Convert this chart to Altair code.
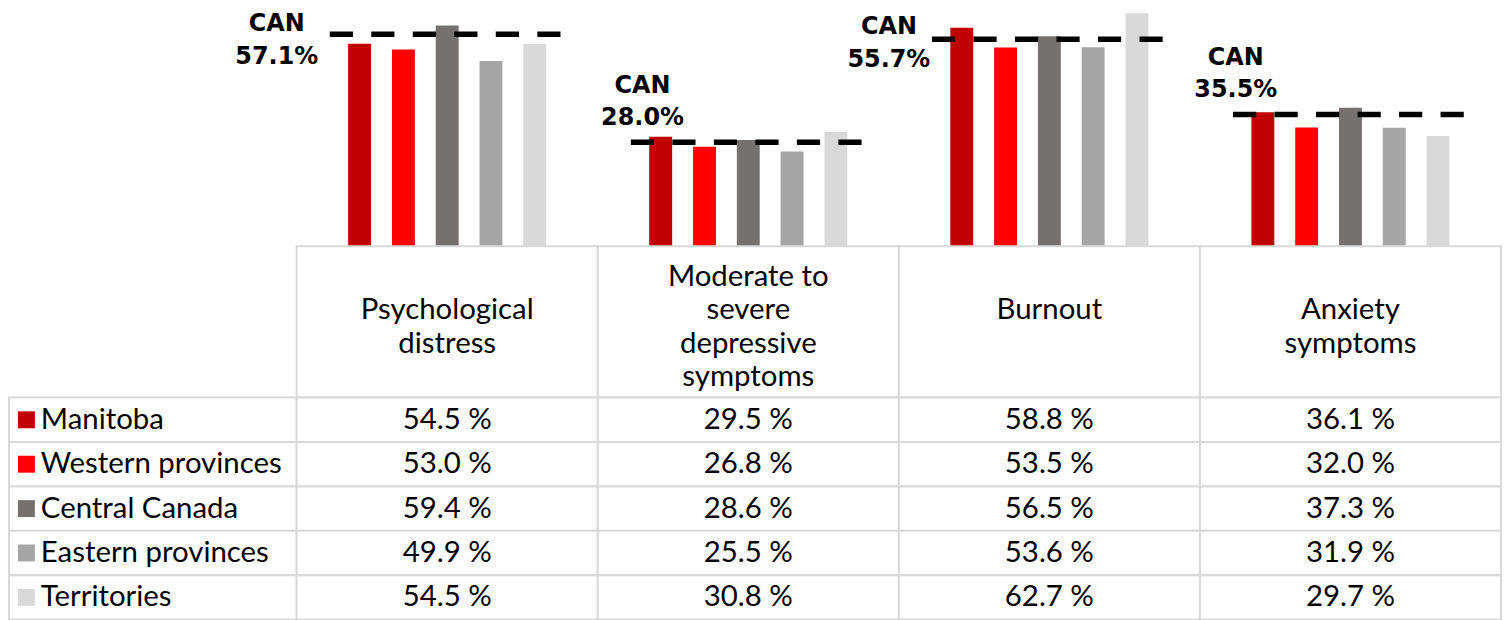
import altair as alt
import pandas as pd

# ---------------- data ----------------
categories = ["Psychological distress", "Moderate to severe depressive symptoms",
              "Burnout", "Anxiety symptoms"]
header_labels = ["Psychological\ndistress", "Moderate to\nsevere\ndepressive\nsymptoms",
                 "Burnout\n", "Anxiety\nsymptoms"]
regions = ["Manitoba", "Western provinces", "Central Canada", "Eastern provinces", "Territories"]
region_colors = ["#C00000", "#FF0000", "#767171", "#A5A5A5", "#D9D9D9"]

manitoba = [54.5, 29.5, 58.8, 36.1]
western = [53.0, 26.8, 53.5, 32.0]
central = [59.4, 28.6, 56.5, 37.3]
eastern = [49.9, 25.5, 53.6, 31.9]
territories = [54.5, 30.8, 62.7, 29.7]
canada = [57.1, 28.0, 55.7, 35.5]

series = [manitoba, western, central, eastern, territories]
rows = []
for reg, vals in zip(regions, series):
    for cat, v in zip(categories, vals):
        rows.append({"category": cat, "region": reg, "value": v, "label": f"{v:.1f} %"})
long_df = pd.DataFrame(rows)
can_df = pd.DataFrame({"category": categories, "can": canada,
                       "label": [f"CAN\n{v:.1f}%" for v in canada]})
head_df = pd.DataFrame({"category": categories, "header": header_labels})
reg_df = pd.DataFrame({"region": regions})

# ---------------- layout / style ----------------
LEFT_W = 289
DATA_W = 1210
BAR_H = 238
HEAD_H = 152
ROWS_H = 223
GRID = "#D9D9D9"
FONT = "Lato"
FS = 29.5
HEAD_LH = 33.5

x_scale = alt.Scale(domain=categories, paddingInner=0, paddingOuter=0)
y_scale = alt.Scale(domain=[0, 63.75])
row_scale = alt.Scale(domain=regions, paddingInner=0, paddingOuter=0)
color_scale = alt.Scale(domain=regions, range=region_colors)


def xenc(**kw):
    return alt.X("category:N", scale=x_scale, axis=None, sort=categories, **kw)


bars = alt.Chart(long_df).mark_bar(width=23).encode(
    x=xenc(),
    xOffset=alt.XOffset("region:N", sort=regions,
                        scale=alt.Scale(domain=regions, paddingInner=0.125, paddingOuter=1)),
    y=alt.Y("value:Q", scale=y_scale, axis=None),
    color=alt.Color("region:N", scale=color_scale, legend=None),
)

can_rule = alt.Chart(can_df).mark_rule(color="black", strokeWidth=5.5,
                                       strokeDash=[23.3, 18.4], strokeCap="butt").encode(
    x=xenc(bandPosition=0.11),
    x2=alt.X2("category:N", bandPosition=0.885),
    y=alt.Y("can:Q", scale=y_scale, axis=None),
)

# CAN label placement (style only): dx from column start, dy from line
label_style = {
    categories[0]: (-20, -3),
    categories[1]: (45, -50),
    categories[2]: (-10, -5),
    categories[3]: (36, -50),
}
can_labels = []
for cat in categories:
    dx, dy = label_style[cat]
    can_labels.append(
        alt.Chart(can_df).transform_filter(alt.datum.category == cat).mark_text(
            font="DejaVu Sans", fontWeight="bold", fontSize=24, lineBreak="\n",
            lineHeight=33, align="center", baseline="alphabetic", dx=dx, dy=dy, color="black"
        ).encode(
            x=xenc(bandPosition=0),
            y=alt.Y("can:Q", scale=y_scale, axis=None),
            text="label:N",
        )
    )

bar_chart = alt.layer(bars, can_rule, *can_labels).properties(width=DATA_W, height=BAR_H)


def blank(h):
    return alt.Chart(pd.DataFrame({"a": [0]})).mark_point(size=0, opacity=0).encode(
        x=alt.value(10), y=alt.value(10)
    ).properties(width=LEFT_W, height=h)


# header row
head_cells = alt.Chart(head_df).mark_rect(fill="white", stroke=GRID, strokeWidth=2).encode(
    x=xenc(), y=alt.value(0), y2=alt.value(HEAD_H)
)
head_texts = []
for cat, lab in zip(categories, header_labels):
    n_lines = lab.count("\n") + 1
    head_texts.append(
        alt.Chart(head_df).transform_filter(alt.datum.category == cat).mark_text(
            font=FONT, fontSize=FS, lineBreak="\n", lineHeight=HEAD_LH, baseline="middle",
            align="center", color="black", dy=-(n_lines - 1) / 2 * HEAD_LH
        ).encode(x=xenc(), y=alt.value(HEAD_H / 2 + 5), text="header:N")
    )
head_chart = alt.layer(head_cells, *head_texts).properties(width=DATA_W, height=HEAD_H)

# value rows
val_cells = alt.Chart(long_df).mark_rect(fill="white", stroke=GRID, strokeWidth=2).encode(
    x=xenc(), y=alt.Y("region:N", scale=row_scale, axis=None, sort=regions)
)
val_text = alt.Chart(long_df).mark_text(
    font=FONT, fontSize=FS, baseline="middle", align="center", color="black"
).encode(x=xenc(), y=alt.Y("region:N", scale=row_scale, axis=None, sort=regions), text="label:N")
val_chart = alt.layer(val_cells, val_text).properties(width=DATA_W, height=ROWS_H)

# legend column
leg_cells = alt.Chart(reg_df).mark_rect(fill="white", stroke=GRID, strokeWidth=2).encode(
    x=alt.value(0), x2=alt.value(LEFT_W),
    y=alt.Y("region:N", scale=row_scale, axis=None, sort=regions)
)
leg_sw = alt.Chart(reg_df).mark_square(size=289, opacity=1).encode(
    x=alt.value(17.5),
    y=alt.Y("region:N", scale=row_scale, axis=None, sort=regions),
    color=alt.Color("region:N", scale=color_scale, legend=None),
)
leg_text = alt.Chart(reg_df).mark_text(
    font=FONT, fontSize=FS, baseline="middle", align="left", color="black"
).encode(
    x=alt.value(32),
    y=alt.Y("region:N", scale=row_scale, axis=None, sort=regions),
    text="region:N",
)
leg_chart = alt.layer(leg_cells, leg_sw, leg_text).properties(width=LEFT_W, height=ROWS_H)

chart = alt.concat(
    blank(BAR_H), bar_chart,
    blank(HEAD_H), head_chart,
    leg_chart, val_chart,
    columns=2, spacing=0, bounds="flush",
).properties(padding=0, background="white").configure_view(stroke=None)

chart.save("out.html", embed_options={"renderer": "svg", "actions": False})
